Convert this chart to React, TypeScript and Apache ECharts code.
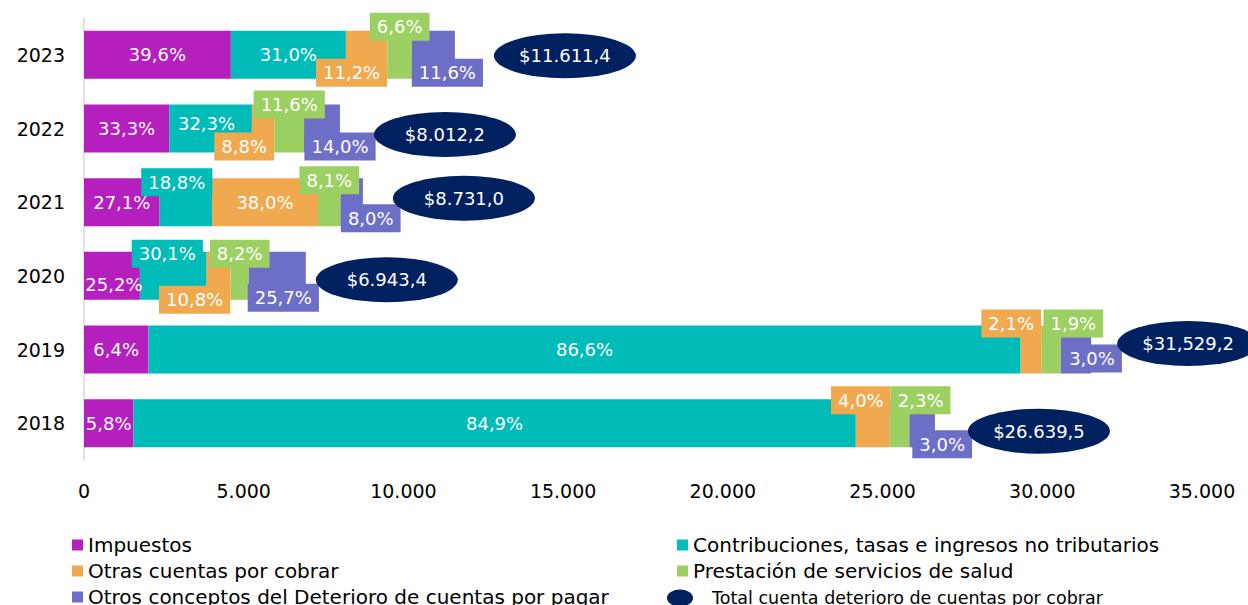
import React, { useEffect, useRef } from 'react';
import * as echarts from 'echarts';

// ---------- data ----------
const years = ['2018', '2019', '2020', '2021', '2022', '2023'];
const totals = [26639.5, 31529.2, 6943.4, 8731.0, 8012.2, 11611.4];
const totalLabels = ['$26.639,5', '$31,529,2', '$6.943,4', '$8.731,0', '$8.012,2', '$11.611,4'];

const nameImpuestos = 'Impuestos';
const nameContribuciones = 'Contribuciones, tasas e ingresos no tributarios';
const nameOtras = 'Otras cuentas por cobrar';
const namePrestacion = 'Prestación de servicios de salud';
const nameOtros = 'Otros conceptos del Deterioro de cuentas por pagar';
const nameTotal = 'Total cuenta deterioro de cuentas por cobrar';

// shares (%) of each total, per year (2018..2023)
const pctImpuestos = [5.8, 6.4, 25.2, 27.1, 33.3, 39.6];
const pctContribuciones = [84.9, 86.6, 30.1, 18.8, 32.3, 31.0];
const pctOtras = [4.0, 2.1, 10.8, 38.0, 8.8, 11.2];
const pctPrestacion = [2.3, 1.9, 8.2, 8.1, 11.6, 6.6];
const pctOtros = [3.0, 3.0, 25.7, 8.0, 14.0, 11.6];

const xMin = 0;
const xMax = 35000;
const xInterval = 5000;

// ---------- layout / style (not data) ----------
const colors = {
  imp: '#B41FBE',
  con: '#00BCB8',
  otr: '#F1A950',
  pre: '#9CD062',
  otros: '#6D6EC6',
  total: '#00215F',
};

// label shifts in px relative to segment centre
const shiftImp = [[0, 0], [0, 0], [2, 9], [0, 0], [0, 0], [0, 0]];
const shiftCon = [[0, 0], [0, 0], [-6, -22], [-9, -20], [-4, -5], [0, 0]];
const shiftOtr = [[-12, -23], [-20, -26], [-24, 24], [0, 0], [-19, 18], [-15, 18]];
const shiftPre = [[21, -23], [22, -26], [0, -22], [0, -22], [0, -24], [0, -28]];
const shiftOtros = [[20, 21], [16, 9], [6, 22], [19, 16], [18, 18], [14, 18]];
const ellipseShift = [[104, 8], [97, -6], [81, 4], [101, -4], [105, 6], [110, 1]];

const ELLIPSE = 'path://M0,50 A50,50 0 1,0 100,50 A50,50 0 1,0 0,50 Z';

const fmtPct = (p: number) => p.toFixed(1).replace('.', ',') + '%';
const fmtThousands = (v: number) =>
  String(Math.round(v)).replace(/\B(?=(\d{3})+(?!\d))/g, '.');

function makeBarSeries(
  name: string,
  pcts: number[],
  shifts: number[][],
  color: string,
  boxed: boolean
) {
  return {
    name,
    type: 'bar',
    stack: 'total',
    barWidth: 48,
    itemStyle: { color },
    label: {
      show: true,
      position: 'inside',
      color: '#fff',
      fontSize: 18,
      lineHeight: 20,
    },
    data: pcts.map((p, i) => {
      const s = shifts[i];
      const moved = s[0] !== 0 || s[1] !== 0;
      return {
        value: (totals[i] * p) / 100,
        label: {
          formatter: fmtPct(p),
          offset: s,
          ...(boxed && moved
            ? { backgroundColor: color, padding: [4, 7] }
            : {}),
        },
      };
    }),
  };
}

export default function App() {
  const ref = useRef<HTMLDivElement>(null);

  useEffect(() => {
    if (!ref.current) return;
    const chart = echarts.init(ref.current, undefined, { renderer: 'svg' });

    const legendItem = (name: string, left: number, top: number) => ({
      orient: 'horizontal',
      padding: 0,
      left,
      top,
      itemWidth: 11,
      itemHeight: 11,
      icon: 'rect',
      selectedMode: false,
      data: [name],
      textStyle: { fontSize: 20, color: '#000', fontFamily: 'DejaVu Sans' },
    });

    const option = {
      animation: false,
      textStyle: { fontFamily: 'DejaVu Sans' },
      grid: { left: 84, right: 46, top: 18, height: 442, containLabel: false },
      xAxis: {
        type: 'value',
        min: xMin,
        max: xMax,
        interval: xInterval,
        axisLine: { show: false },
        axisTick: { show: false },
        splitLine: { show: false },
        axisLabel: {
          fontSize: 19,
          color: '#000',
          margin: 21,
          formatter: (v: number) => fmtThousands(v),
        },
      },
      yAxis: {
        type: 'category',
        data: years,
        axisTick: { show: false },
        axisLine: { show: true, lineStyle: { color: '#d9d9d9', width: 1.5 } },
        axisLabel: { fontSize: 19, color: '#000', margin: 19 },
      },
      legend: [
        legendItem(nameImpuestos, 72, 535),
        legendItem(nameOtras, 72, 561),
        legendItem(nameOtros, 72, 587),
        legendItem(nameContribuciones, 677, 535),
        legendItem(namePrestacion, 677, 561),
        {
          orient: 'horizontal',
          padding: 0,
          left: 667,
          top: 589,
          itemWidth: 26,
          itemHeight: 17,
          icon: ELLIPSE,
          symbolKeepAspect: false,
          selectedMode: false,
          data: [nameTotal],
          textStyle: {
            fontSize: 17.5,
            color: '#000',
            fontFamily: 'DejaVu Sans',
            padding: [0, 0, 0, 14],
          },
        },
      ],
      series: [
        makeBarSeries(nameImpuestos, pctImpuestos, shiftImp, colors.imp, false),
        makeBarSeries(nameContribuciones, pctContribuciones, shiftCon, colors.con, true),
        makeBarSeries(nameOtras, pctOtras, shiftOtr, colors.otr, true),
        makeBarSeries(namePrestacion, pctPrestacion, shiftPre, colors.pre, true),
        makeBarSeries(nameOtros, pctOtros, shiftOtros, colors.otros, true),
        {
          name: nameTotal,
          type: 'scatter',
          clip: false,
          symbol: ELLIPSE,
          symbolSize: [142, 45],
          symbolKeepAspect: false,
          itemStyle: { color: colors.total, opacity: 1 },
          z: 5,
          label: {
            show: true,
            position: 'inside',
            color: '#fff',
            fontSize: 18,
            formatter: (p: any) => totalLabels[p.dataIndex],
          },
          data: totals.map((t, i) => ({
            value: [t, years[i]],
            symbolOffset: ellipseShift[i],
          })),
        },
      ],
    };

    chart.setOption(option as any);
    return () => chart.dispose();
  }, []);

  return (
    <div
      ref={ref}
      style={{
        position: 'fixed',
        left: 0,
        top: 0,
        width: 1248,
        height: 605,
        background: '#fff',
      }}
    />
  );
}
